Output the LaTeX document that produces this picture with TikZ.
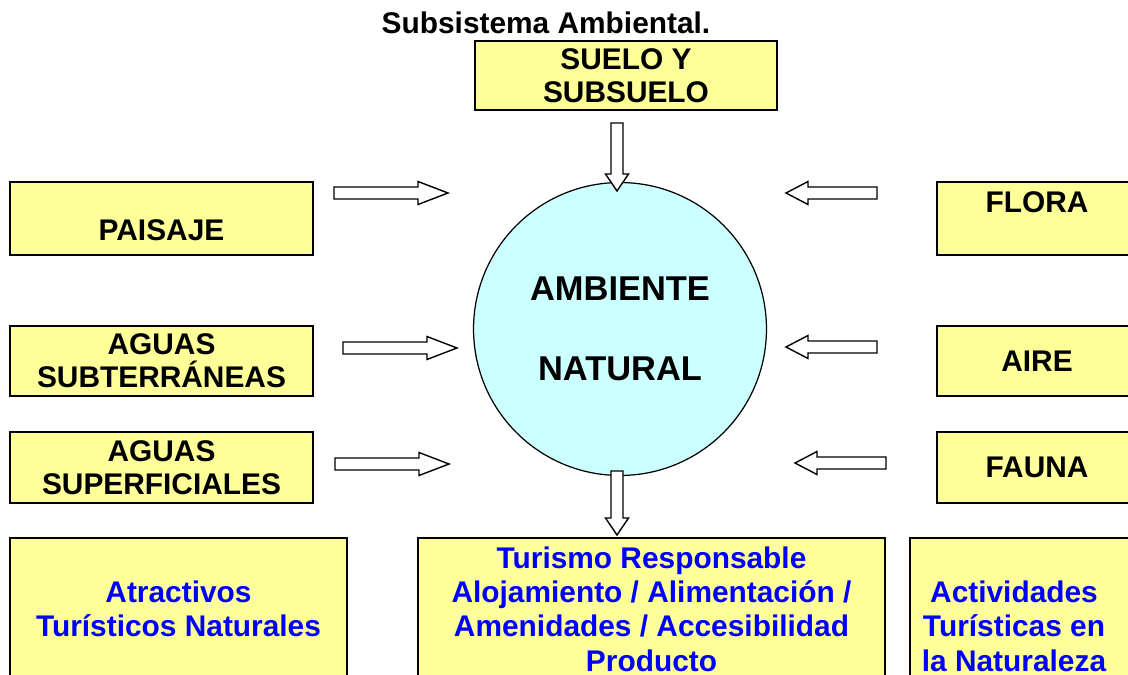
\documentclass[tikz,border=0pt]{standalone}
\usepackage{fontspec}
\setmainfont{Liberation Sans}
\usetikzlibrary{calc}
\definecolor{paleyellow}{HTML}{FFFF99}
\definecolor{paleblue}{HTML}{CCFFFF}

\newcommand{\blockarrow}[3]{%
	\coordinate (h) at ($(#2)!#3!(#1)$);
	\draw[arrowstyle] ($(#1)!0.12cm!90:(#2)$) -- ($(h)!0.12cm!90:(#2)$) -- ($(h)!0.23cm!90:(#2)$) -- (#2)
		-- ($(h)!0.23cm!-90:(#2)$) -- ($(h)!0.12cm!-90:(#2)$) -- ($(#1)!0.12cm!-90:(#2)$) -- cycle;}

\begin{document}
\begin{tikzpicture}[x=0.02cm, y=-0.02cm,
	yellowbox/.style={rectangle, draw, line width=1.1pt, fill=paleyellow, inner sep=0, align=center, font=\fontsize{17}{18.7}\selectfont\bfseries},
	bluetext/.style={text=blue, align=center, inner sep=0, font=\fontsize{17}{19.6}\selectfont\bfseries},
	plaintext/.style={align=center, inner sep=0, font=\fontsize{17}{18.7}\selectfont\bfseries},
	arrowstyle/.style={draw, line width=0.8pt, fill=white, line join=miter}]
	\path[use as bounding box] (0,0) rectangle (1128,675);
	\clip (0,0) rectangle (1128,675);

	\node[plaintext] (title) at (546,23) {Subsistema Ambiental.};

	% boxes round the circle
	\node[yellowbox, minimum width=6.04cm, minimum height=1.38cm] (suelo) at (626,75.5) {SUELO Y\\SUBSUELO};
	\node[yellowbox, minimum width=6.06cm, minimum height=1.46cm] (paisaje) at (161.5,218.5) {};
	\node[plaintext] (paisajeT) at (161.5,230) {PAISAJE};
	\node[yellowbox, minimum width=6.06cm, minimum height=1.40cm] (subterraneas) at (161.5,361) {AGUAS\\SUBTERRÁNEAS};
	\node[yellowbox, minimum width=6.06cm, minimum height=1.42cm] (superficiales) at (161.5,467.5) {AGUAS\\SUPERFICIALES};
	\node[yellowbox, minimum width=4cm, minimum height=1.46cm] (flora) at (1037,218.5) {};
	\node[plaintext] (floraT) at (1037,202) {FLORA};
	\node[yellowbox, minimum width=4cm, minimum height=1.40cm] (aire) at (1037,361) {AIRE};
	\node[yellowbox, minimum width=4cm, minimum height=1.42cm] (fauna) at (1037,467.5) {FAUNA};

	\node[circle, draw, line width=0.7pt, fill=paleblue, minimum size=5.86cm, inner sep=0, align=center,
		font=\fontsize{19.6}{23.5}\selectfont\bfseries] (ambiente) at (620,329) {AMBIENTE\\[21.9pt]NATURAL};

	% bottom row
	\node[yellowbox, minimum width=6.74cm, minimum height=2.88cm] (atractivos) at (178.5,610) {};
	\node[bluetext] (atractivosT) at (178.5,609) {Atractivos\\Turísticos Naturales};
	\node[yellowbox, minimum width=9.34cm, minimum height=2.88cm] (turismo) at (651.5,610) {};
	\node[bluetext] (turismoT) at (651.5,609) {Turismo Responsable\\Alojamiento / Alimentación /\\Amenidades / Accesibilidad\\Producto};
	\node[yellowbox, minimum width=4.44cm, minimum height=2.88cm] (actividades) at (1021,610) {};
	\node[bluetext] (actividadesT) at (1014,626) {Actividades\\Turísticas en\\la Naturaleza};

	% block arrows
	\foreach \a/\b/\h [count=\i] in {{617,123}/{617,191}/0.34cm, {334,193}/{448,193}/0.6cm, {343,348}/{457,348}/0.6cm,
			{335,464}/{449,464}/0.6cm, {877,193}/{786,193}/0.44cm, {877,347}/{786,347}/0.44cm,
			{886,463}/{795,463}/0.44cm, {617,471}/{617,535}/0.34cm}
		{\coordinate (s\i) at (\a);
		\coordinate (e\i) at (\b);
		\blockarrow{s\i}{e\i}{\h}}
\end{tikzpicture}
\end{document}
